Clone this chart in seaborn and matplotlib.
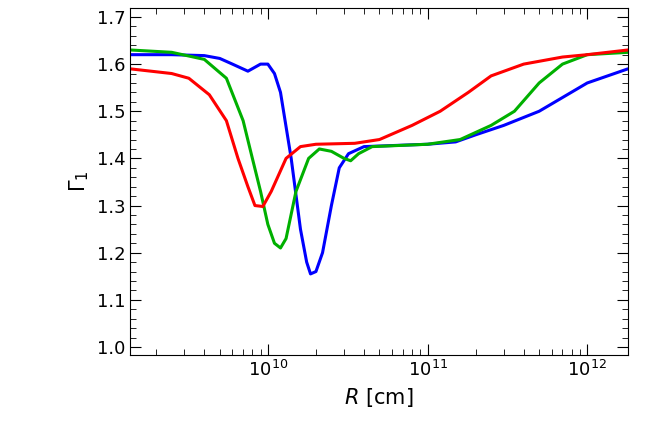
import numpy as np
import pandas as pd
import matplotlib
matplotlib.use("Agg")
import matplotlib.pyplot as plt
import seaborn as sns
from matplotlib.ticker import MultipleLocator

blue_r = [1.37e9,2.5e9,4e9,5e9,6e9,7.5e9,9e9,1.0e10,1.1e10,1.2e10,1.4e10,1.6e10,1.75e10,1.85e10,2.0e10,2.2e10,2.5e10,2.8e10,3.2e10,4e10,1e11,1.5e11,2e11,3e11,5e11,1e12,1.8e12]
blue_g = [1.62,1.62,1.618,1.612,1.60,1.585,1.60,1.60,1.58,1.54,1.40,1.25,1.18,1.155,1.16,1.20,1.30,1.38,1.41,1.425,1.43,1.435,1.45,1.47,1.50,1.56,1.59]
green_r = [1.37e9,2.5e9,4e9,5.5e9,7e9,8e9,9e9,1e10,1.1e10,1.2e10,1.3e10,1.5e10,1.8e10,2.1e10,2.5e10,3e10,3.3e10,3.7e10,4.5e10,1e11,1.6e11,2.5e11,3.5e11,5e11,7e11,1e12,1.8e12]
green_g = [1.63,1.625,1.61,1.57,1.48,1.40,1.33,1.26,1.22,1.21,1.23,1.33,1.40,1.42,1.415,1.40,1.395,1.41,1.425,1.43,1.44,1.47,1.50,1.56,1.60,1.62,1.625]
red_r = [1.37e9,2.5e9,3.2e9,4.3e9,5.5e9,6.5e9,7.5e9,8.3e9,9.3e9,1.05e10,1.3e10,1.6e10,2e10,3.5e10,5e10,8e10,1.2e11,1.8e11,2.5e11,4e11,7e11,1e12,1.8e12]
red_g = [1.59,1.58,1.57,1.535,1.48,1.40,1.34,1.30,1.298,1.33,1.40,1.425,1.43,1.432,1.44,1.47,1.50,1.54,1.575,1.60,1.615,1.62,1.63]

df = pd.concat([
    pd.DataFrame({"R": blue_r, "G": blue_g, "s": "blue"}),
    pd.DataFrame({"R": green_r, "G": green_g, "s": "green"}),
    pd.DataFrame({"R": red_r, "G": red_g, "s": "red"}),
])

sns.set_style("ticks")
plt.rcParams.update({"text.color": "black", "xtick.color": "black", "ytick.color": "black",
                     "axes.labelcolor": "black", "axes.edgecolor": "black"})
fig = plt.figure(figsize=(6.68, 4.38), dpi=100)
ax = fig.add_axes([130/668, 1-355/438, 498/668, 347/438])
sns.lineplot(data=df, x="R", y="G", hue="s", palette={"blue": "#0000ff", "green": "#00b000", "red": "#ff0000"},
             lw=2.2, legend=False, ax=ax, sort=False)
ax.set_xscale("log")
ax.set_xlim(1.37e9, 1.8e12)
ax.set_ylim(0.983, 1.719)
yt = np.arange(1.0, 1.71, 0.1)
ax.set_yticks(yt)
ax.set_yticklabels([f"{v:.1f}" for v in yt])
ax.yaxis.set_minor_locator(MultipleLocator(0.02))
ax.tick_params(which="both", direction="in", top=True, right=True, labelsize=13)
ax.tick_params(which="major", length=8)
ax.tick_params(which="minor", length=4)
ax.set_xlabel(r"$R$ [cm]", fontsize=15)
ax.set_ylabel(r"$\Gamma_1$", fontsize=15)
fig.savefig("out.png", dpi=100)
